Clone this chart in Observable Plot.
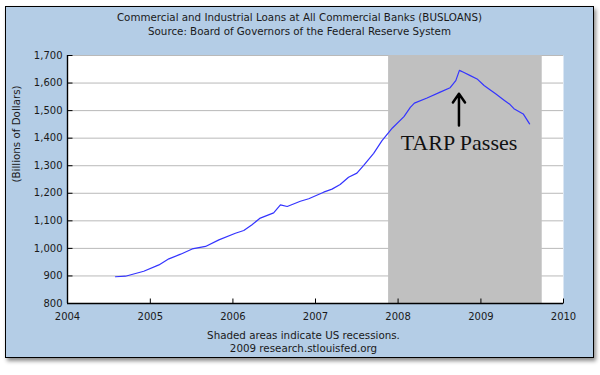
<!DOCTYPE html>
<html><head><meta charset="utf-8">
<script src="https://cdn.jsdelivr.net/npm/d3@7"></script>
<script src="https://cdn.jsdelivr.net/npm/@observablehq/plot@0.6"></script>
<style>
body{margin:0;background:#fff;}
#panel{position:absolute;left:5px;top:6px;width:589px;height:352px;box-sizing:border-box;border:1px solid #000;background:#B4CDE6;box-shadow:2px 3px 4px rgba(0,0,0,0.45);font-family:"DejaVu Sans",Verdana,sans-serif;color:#1a1a1a;}
#title{position:absolute;left:0;right:0;top:3px;text-align:center;font-size:10.3px;line-height:14px;}
#chart{position:absolute;left:0;top:33px;}
#footer{position:absolute;left:8px;right:0;top:322px;text-align:center;font-size:10.3px;line-height:13px;}
</style></head>
<body>
<div id="panel">
<div id="title">Commercial and Industrial Loans at All Commercial Banks (BUSLOANS)<br>Source: Board of Governors of the Federal Reserve System</div>
<div id="chart"></div>
<div id="footer">Shaded areas indicate US recessions.<br>2009 research.stlouisfed.org</div>
</div>
<script>
// Series: BUSLOANS, billions of dollars
const dates = [
  "2004-07-31","2004-09-13","2004-12-03","2005-02-08","2005-03-24","2005-05-15","2005-07-05",
  "2005-09-02","2005-10-31","2006-01-12","2006-02-18","2006-03-25","2006-05-02","2006-06-30",
  "2006-07-30","2006-08-29","2006-10-26","2006-12-02","2007-02-06","2007-03-15","2007-04-20",
  "2007-05-27","2007-07-03","2007-08-02","2007-09-15","2007-10-22","2007-12-07","2008-01-27",
  "2008-02-24","2008-03-13","2008-05-08","2008-07-05","2008-08-18","2008-09-12","2008-09-28",
  "2008-10-16","2008-11-15","2008-12-15","2009-01-15","2009-02-10","2009-03-07","2009-04-15",
  "2009-05-10","2009-05-27","2009-07-07","2009-08-04"
];
const values = [
  897, 899, 917, 940, 962, 979, 998,
  1007, 1031, 1055, 1065, 1085, 1110, 1129,
  1158, 1152, 1171, 1180, 1204, 1215, 1232,
  1258, 1273, 1301, 1345, 1391, 1437, 1478,
  1512, 1527, 1546, 1567, 1583, 1609, 1646,
  1639, 1627, 1615, 1591, 1576, 1561, 1537,
  1522, 1507, 1488, 1452
];
const yTicks = [800, 900, 1000, 1100, 1200, 1300, 1400, 1500, 1600, 1700];
const xTickYears = [2004, 2005, 2006, 2007, 2008, 2009, 2010];
const recessionStart = "2007-11-20";
const recessionEnd = "2009-09-29";
const yLabel = "(Billions of Dollars)";
const noteText = "TARP Passes";
const noteDate = "2008-09-26";
const noteTextValue = 1384;
const arrowFrom = 1446;
const arrowTo = 1561;

const parse = d3.utcParse("%Y-%m-%d");
const data = dates.map((d, i) => ({date: parse(d), value: values[i]}));
const xTicks = xTickYears.map(y => new Date(Date.UTC(y, 0, 1)));
const recession = [{start: parse(recessionStart), end: parse(recessionEnd)}];
const note = [{date: parse(noteDate), text: noteText, y: noteTextValue, y1: arrowFrom, y2: arrowTo}];
const tickShape = {draw(context, l) { context.moveTo(0, 0); context.lineTo(0, -l); }};

const chart = Plot.plot({
  width: 587,
  height: 288,
  marginLeft: 61,
  marginRight: 30,
  marginTop: 15,
  marginBottom: 25,
  style: {background: "transparent", fontFamily: "'DejaVu Sans', Verdana, sans-serif", fontSize: "10px", color: "#1a1a1a", overflow: "visible"},
  x: {type: "utc", domain: [xTicks[0], xTicks[xTicks.length - 1]], label: null},
  y: {domain: [yTicks[0], yTicks[yTicks.length - 1]], label: null},
  marks: [
    Plot.frame({fill: "white", stroke: "none"}),
    Plot.gridY(yTicks.slice(1), {stroke: "#b9b9b9", strokeOpacity: 1, strokeWidth: 1}),
    Plot.barX(recession, {x1: "start", x2: "end", fill: "#c0c0c0"}),
    Plot.line(data, {x: "date", y: "value", stroke: "#3434ff", strokeWidth: 1.2}),
    Plot.ruleY([yTicks[0]], {stroke: "#000", strokeWidth: 1.4}),
    Plot.ruleX([xTicks[0]], {stroke: "#000", strokeWidth: 1.4}),
    Plot.vector(yTicks, {x: () => xTicks[0], y: d => d, length: 5, rotate: 90, anchor: "start", shape: tickShape, stroke: "#000", strokeWidth: 1, strokeLinecap: "butt"}),
    Plot.vector(xTicks, {x: d => d, y: () => yTicks[0], length: 5, rotate: 0, anchor: "start", shape: tickShape, stroke: "#000", strokeWidth: 1, strokeLinecap: "butt"}),
    Plot.axisY({ticks: yTicks, tickSize: 0, tickPadding: 5, tickFormat: d3.format(","), label: null}),
    Plot.axisX({ticks: xTicks, tickSize: 0, tickPadding: 9, tickFormat: d3.utcFormat("%Y"), label: null}),
    Plot.text([yLabel], {text: d => d, frameAnchor: "left", dx: -51, dy: 3, rotate: -90, fontSize: 10.3}),
    Plot.arrow(note, {x1: "date", x2: "date", y1: "y1", y2: "y2", stroke: "#000", strokeWidth: 2.5, headLength: 8.7, headAngle: 70}),
    Plot.text(note, {x: "date", y: "y", text: "text", fontFamily: "'Liberation Serif', 'Times New Roman', serif", fontSize: 22, fill: "#111"})
  ]
});
document.getElementById("chart").appendChild(chart);
</script>
</body></html>
